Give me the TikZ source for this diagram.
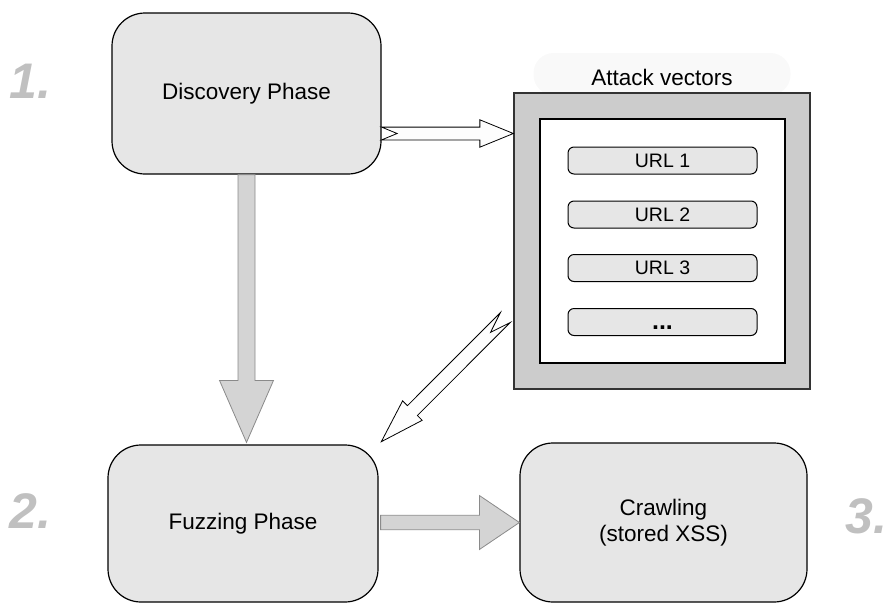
\documentclass[tikz,border=0pt]{standalone}
\usepackage{fontspec}
\setmainfont{Liberation Sans}
\usetikzlibrary{calc}

\definecolor{boxfill}{HTML}{E6E6E6}
\definecolor{framefill}{HTML}{CCCCCC}
\definecolor{frameline}{HTML}{333333}
\definecolor{arrowfill}{HTML}{D4D4D4}
\definecolor{arrowline}{HTML}{8A8A8A}
\definecolor{hollowfill}{HTML}{FDFDFD}
\definecolor{numgray}{HTML}{C0C0C0}
\definecolor{glow}{HTML}{F9F9F9}

\tikzset{
  % block arrow drawn between two points:
  % shaft half width / head half width / head length / tail notch depth
  blockarrow/.style args={#1/#2/#3/#4}{to path={
    ($(\tikztostart)!#1!90:(\tikztotarget)$)
    -- ($(\tikztotarget)!#3!(\tikztostart)!#1!90:(\tikztotarget)$)
    -- ($(\tikztotarget)!#3!(\tikztostart)!#2!90:(\tikztotarget)$)
    -- (\tikztotarget)
    -- ($(\tikztotarget)!#3!(\tikztostart)!#2!-90:(\tikztotarget)$)
    -- ($(\tikztotarget)!#3!(\tikztostart)!#1!-90:(\tikztotarget)$)
    -- ($(\tikztostart)!#1!-90:(\tikztotarget)$)
    -- ($(\tikztostart)!#4!(\tikztotarget)$)
    -- cycle}},
  grayarrow/.style={fill=arrowfill, draw=arrowline, line width=0.8pt, line join=miter},
  hollowarrow/.style={fill=hollowfill, draw=black, line width=0.8pt, line join=miter},
  phase/.style={draw=black, fill=boxfill, line width=1.2pt, rounded corners=33pt,
    align=center, font=\fontsize{22.5}{26}\selectfont},
  urlbox/.style={draw=black, fill=boxfill, line width=1pt, rounded corners=6pt,
    minimum width=189pt, minimum height=27pt, inner sep=0pt,
    font=\fontsize{19.5}{22}\selectfont},
  stepnum/.style={text=numgray, inner sep=0pt, anchor=base west,
    font=\fontsize{50}{50}\selectfont\bfseries\itshape},
}

\begin{document}
\begin{tikzpicture}[x=1pt, y=-1pt]
\useasboundingbox (0,0) rectangle (886,603);

% phase boxes
\node[phase, minimum width=269pt, minimum height=161pt] (disc) at (246.5,93.5) {Discovery Phase};
\node[phase, minimum width=270pt, minimum height=157pt] (fuzz) at (243,523.5) {Fuzzing Phase};
\node[phase, minimum width=287pt, minimum height=159pt] (crawl) at (663.5,522.5) {Crawling\\(stored XSS)};

% attack vector list
\node[fill=glow, rounded corners=20pt, minimum width=257pt, minimum height=42pt] (avglow) at (662,74) {};
\node[font=\fontsize{22.5}{26}\selectfont, inner sep=0pt] (avlabel) at (662,77) {Attack vectors};
\node[draw=frameline, fill=framefill, line width=1.3pt, minimum width=296pt, minimum height=296pt] (av) at (662,241) {};
\node[draw=black, fill=white, line width=1.3pt, minimum width=245pt, minimum height=244pt] (avin) at (662.5,241) {};
\node[urlbox] (url1) at (662.5,160.5) {URL 1};
\node[urlbox] (url2) at (662.5,214.5) {URL 2};
\node[urlbox] (url3) at (662.5,268) {URL 3};
\node[urlbox, font=\fontsize{25}{26}\selectfont\bfseries, text height=0pt, text depth=0pt]
  (urlmore) at (662.5,322) {\raisebox{-7pt}{...}};

% step numbers
\node[stepnum] (n1) at (9,98) {1.};
\node[stepnum] (n2) at (9,528) {2.};
\node[stepnum] (n3) at (845,533) {3.};

% connectors
\coordinate (hA) at ([yshift=-40pt]disc.east);
\coordinate (hB) at (hA -| av.west);
\draw[hollowarrow] (hA) to[blockarrow=6.4pt/13.7pt/33.5pt/15.5pt] (hB);

\coordinate (dA) at ([xshift=-8pt, yshift=-76.5pt]av.west);
\coordinate (dB) at ([xshift=2.7pt, yshift=2.7pt]fuzz.north east);
\draw[hollowarrow] (dA) to[blockarrow=7pt/13.8pt/44pt/21pt] (dB);

\coordinate (vB) at ([yshift=2pt]disc.south |- fuzz.north);
\draw[grayarrow] (disc.south) to[blockarrow=8.5pt/27pt/62pt/0pt] (vB);

\coordinate (gA) at ([xshift=2pt]fuzz.east |- crawl.west);
\draw[grayarrow] (gA) to[blockarrow=7.2pt/27pt/40pt/0pt] (crawl.west);
\end{tikzpicture}
\end{document}
